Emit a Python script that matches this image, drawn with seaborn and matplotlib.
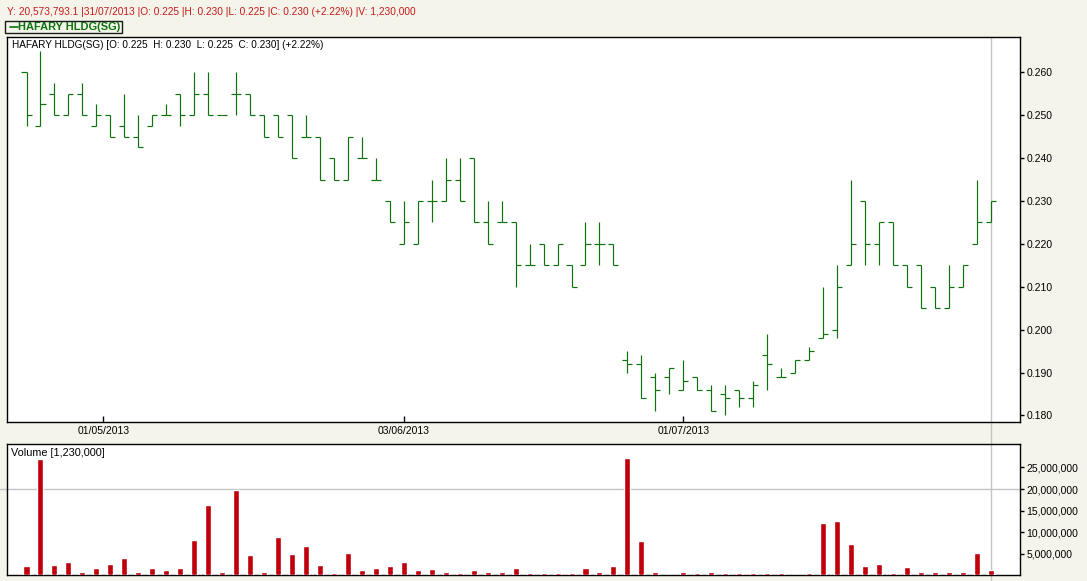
import numpy as np
import pandas as pd
import matplotlib
matplotlib.use("Agg")
import matplotlib.pyplot as plt
import seaborn as sns
from matplotlib.lines import Line2D
from matplotlib.patches import Rectangle
from matplotlib.ticker import FixedLocator, FuncFormatter

# ---------------- data ----------------
opens = [0.260, 0.2475, 0.255, 0.250, 0.255, 0.2475, 0.250, 0.2475, 0.245, 0.2475,
         0.250, 0.255, 0.250, 0.255, 0.250, 0.255, 0.255, 0.250, 0.250, 0.250,
         0.245, 0.245, 0.240, 0.235, 0.240, 0.235, 0.230, 0.220, 0.220, 0.230,
         0.230, 0.235, 0.240, 0.225, 0.225, 0.225, 0.215, 0.220, 0.215, 0.215,
         0.215, 0.220, 0.220, 0.193, 0.192, 0.189, 0.189, 0.186, 0.189, 0.186,
         0.185, 0.186, 0.184, 0.194, 0.189, 0.190, 0.193, 0.198, 0.200, 0.215,
         0.230, 0.220, 0.225, 0.215, 0.215, 0.210, 0.205, 0.210, 0.220, 0.225]
highs = [0.260, 0.265, 0.2575, 0.255, 0.2575, 0.2525, 0.250, 0.255, 0.250, 0.250,
         0.2525, 0.255, 0.260, 0.260, 0.250, 0.260, 0.255, 0.250, 0.250, 0.250,
         0.250, 0.245, 0.240, 0.245, 0.245, 0.240, 0.230, 0.230, 0.230, 0.235,
         0.240, 0.240, 0.240, 0.230, 0.230, 0.225, 0.220, 0.220, 0.220, 0.215,
         0.225, 0.225, 0.220, 0.195, 0.194, 0.190, 0.191, 0.193, 0.189, 0.187,
         0.187, 0.186, 0.188, 0.199, 0.191, 0.193, 0.196, 0.210, 0.215, 0.235,
         0.230, 0.225, 0.225, 0.215, 0.215, 0.210, 0.215, 0.215, 0.235, 0.230]
lows = [0.2475, 0.2475, 0.250, 0.250, 0.250, 0.2475, 0.245, 0.245, 0.2425, 0.2475,
        0.250, 0.2475, 0.250, 0.250, 0.250, 0.250, 0.250, 0.245, 0.245, 0.240,
        0.245, 0.235, 0.235, 0.235, 0.240, 0.235, 0.225, 0.220, 0.220, 0.225,
        0.230, 0.230, 0.225, 0.220, 0.225, 0.210, 0.215, 0.215, 0.215, 0.210,
        0.215, 0.215, 0.215, 0.190, 0.184, 0.181, 0.185, 0.186, 0.186, 0.181,
        0.180, 0.182, 0.182, 0.186, 0.189, 0.190, 0.193, 0.198, 0.198, 0.215,
        0.215, 0.215, 0.215, 0.210, 0.205, 0.205, 0.205, 0.210, 0.220, 0.225]
closes = [0.250, 0.2525, 0.250, 0.255, 0.250, 0.250, 0.245, 0.245, 0.2425, 0.250,
          0.250, 0.250, 0.255, 0.250, 0.250, 0.255, 0.250, 0.245, 0.245, 0.240,
          0.245, 0.235, 0.235, 0.245, 0.240, 0.235, 0.225, 0.225, 0.230, 0.230,
          0.235, 0.230, 0.225, 0.220, 0.225, 0.215, 0.215, 0.215, 0.220, 0.210,
          0.220, 0.220, 0.215, 0.192, 0.184, 0.186, 0.191, 0.188, 0.186, 0.181,
          0.184, 0.184, 0.187, 0.192, 0.189, 0.193, 0.195, 0.199, 0.210, 0.220,
          0.220, 0.225, 0.215, 0.210, 0.205, 0.205, 0.210, 0.215, 0.225, 0.230]
volumes = [2050000, 26900000, 2280000, 2980000, 880000, 1580000, 2510000, 3910000, 650000, 1580000,
           1120000, 1580000, 8090000, 16200000, 650000, 19700000, 4600000, 650000, 8800000, 4840000,
           6700000, 2280000, 420000, 5070000, 1120000, 1580000, 2050000, 2980000, 1120000, 1350000,
           650000, 420000, 1120000, 880000, 650000, 1580000, 420000, 420000, 420000, 420000,
           1580000, 650000, 2050000, 27200000, 7860000, 650000, 0, 650000, 420000, 650000,
           420000, 420000, 420000, 420000, 420000, 0, 420000, 12050000, 12500000, 7160000,
           2050000, 2510000, 420000, 1810000, 880000, 880000, 880000, 650000, 5070000, 1230000]
date_labels = ["01/05/2013", "03/06/2013", "01/07/2013"]
date_ticks = [5.5, 27, 47]
price_ticks = [0.180, 0.190, 0.200, 0.210, 0.220, 0.230, 0.240, 0.250, 0.260]
volume_ticks = [5000000, 10000000, 15000000, 20000000, 25000000]

header = ("Y: 20,573,793.1 |31/07/2013 |O: 0.225 |H: 0.230 |L: 0.225 "
          "|C: 0.230 (+2.22%) |V: 1,230,000")
legend_label = "HAFARY HLDG(SG)"
price_caption = "HAFARY HLDG(SG) [O: 0.225  H: 0.230  L: 0.225  C: 0.230] (+2.22%)"
volume_caption = "Volume [1,230,000]"

df = pd.DataFrame({"idx": np.arange(len(opens)), "open": opens, "high": highs,
                   "low": lows, "close": closes, "volume": volumes})

# ---------------- style ----------------
sns.set_style("white")
plt.rcParams["font.family"] = ["Liberation Sans", "DejaVu Sans"]
plt.rcParams["axes.linewidth"] = 1.0

W, H = 1087, 581
BG = "#F5F4EA"
GREEN = "#0C720C"
RED = "#C0000A"
GRID = "#C4C4C4"
TICK = 7.5

fig = plt.figure(figsize=(W / 100, H / 100), dpi=100, facecolor=BG)

def fx(x):
    return x / W

def fy(y):
    return 1 - y / H

L, R = 6.7, 1020.3
pt, pb = 36.7, 422.3
vt, vb = 443.7, 575.3
axp = fig.add_axes([fx(L), fy(pb), fx(R - L), (pb - pt) / H])
axv = fig.add_axes([fx(L), fy(vb), fx(R - L), (vb - vt) / H])

xmin = (L - 26.5) / 13.975
xmax = xmin + (R - L) / 13.975
crossx = 69

# ---------------- price OHLC bars ----------------
tick_w = 0.36
axp.vlines(df["idx"], df["low"], df["high"], color=GREEN, lw=0.85, zorder=3)
axp.hlines(df["open"], df["idx"] - tick_w, df["idx"], color=GREEN, lw=0.85, zorder=3)
axp.hlines(df["close"], df["idx"], df["idx"] + tick_w, color=GREEN, lw=0.85, zorder=3)
axp.axvline(crossx, color=GRID, lw=1.0, zorder=1)
axp.set_xlim(xmin, xmax)
axp.set_ylim(0.1784, 0.2683)
axp.yaxis.tick_right()
axp.yaxis.set_major_locator(FixedLocator(price_ticks))
axp.yaxis.set_major_formatter(FuncFormatter(lambda v, p: f"{v:.3f}"))
axp.xaxis.set_major_locator(FixedLocator(date_ticks))
axp.set_xticklabels(date_labels)
axp.tick_params(axis="y", which="both", right=True, left=False, direction="out",
                length=3, width=1, pad=1.5, labelsize=TICK, colors="black")
axp.tick_params(axis="x", which="both", bottom=True, direction="in", length=4,
                width=1, pad=3, labelsize=TICK, colors="black")
axp.text((11.7 - L) / (R - L), 1 - 8 / (pb - pt), price_caption,
         transform=axp.transAxes, fontsize=7.2, va="center", ha="left", color="black")
axp.set_xlabel("")
axp.set_ylabel("")

# ---------------- volume bars ----------------
sns.barplot(data=df, x="idx", y="volume", native_scale=True, width=0.43,
            color=RED, saturation=1, errorbar=None, ax=axv, zorder=3)
axv.axvline(crossx, color=GRID, lw=1.0, zorder=1)
axv.axhline(20000000, color=GRID, lw=1.0, zorder=1)
axv.set_xlim(xmin, xmax)
axv.set_ylim(0, 30500000)
axv.yaxis.tick_right()
axv.yaxis.set_major_locator(FixedLocator(volume_ticks))
axv.yaxis.set_major_formatter(FuncFormatter(lambda v, p: f"{int(v):,}"))
axv.tick_params(axis="y", which="both", right=True, left=False, direction="out",
                length=3, width=1, pad=1.5, labelsize=TICK, colors="black")
axv.tick_params(axis="x", which="both", bottom=False, labelbottom=False)
axv.set_xlabel("")
axv.set_ylabel("")
axv.text((11.3 - L) / (R - L), 1 - 9.6 / (vb - vt), volume_caption,
         transform=axv.transAxes, fontsize=7.8, va="center", ha="left", color="black")

for ax in (axp, axv):
    ax.set_facecolor("white")
    for s in ax.spines.values():
        s.set_visible(True)
        s.set_color("black")
        s.set_linewidth(1.0)

# ---------------- crosshair pieces outside the axes ----------------
cx_px = 26.5 + crossx * 13.975
fig.add_artist(Line2D([fx(cx_px), fx(cx_px)], [fy(pt), 0], color=GRID, lw=1.0,
                      transform=fig.transFigure, zorder=-1))
hy = vb - 20000000 / 30500000 * (vb - vt)
fig.add_artist(Line2D([0, fx(L)], [fy(hy), fy(hy)], color=GRID, lw=1.0,
                      transform=fig.transFigure, zorder=-1))

# ---------------- header & legend ----------------
fig.text(fx(7), fy(12.3), header, color="#C41A1A", fontsize=7.3, va="center", ha="left")
fig.add_artist(Rectangle((fx(5), fy(33.3)), fx(121.7 - 5), (33.3 - 20.7) / H,
                         transform=fig.transFigure, facecolor=BG,
                         edgecolor="#1A1A1A", lw=1.0))
fig.add_artist(Line2D([fx(10), fx(17.5)], [fy(27), fy(27)], color=GREEN, lw=1.2,
                      transform=fig.transFigure))
fig.text(fx(18), fy(27.2), legend_label, color=GREEN, fontsize=7.9, fontweight="bold",
         va="center", ha="left")

fig.savefig("out.png", dpi=100, facecolor=BG)
